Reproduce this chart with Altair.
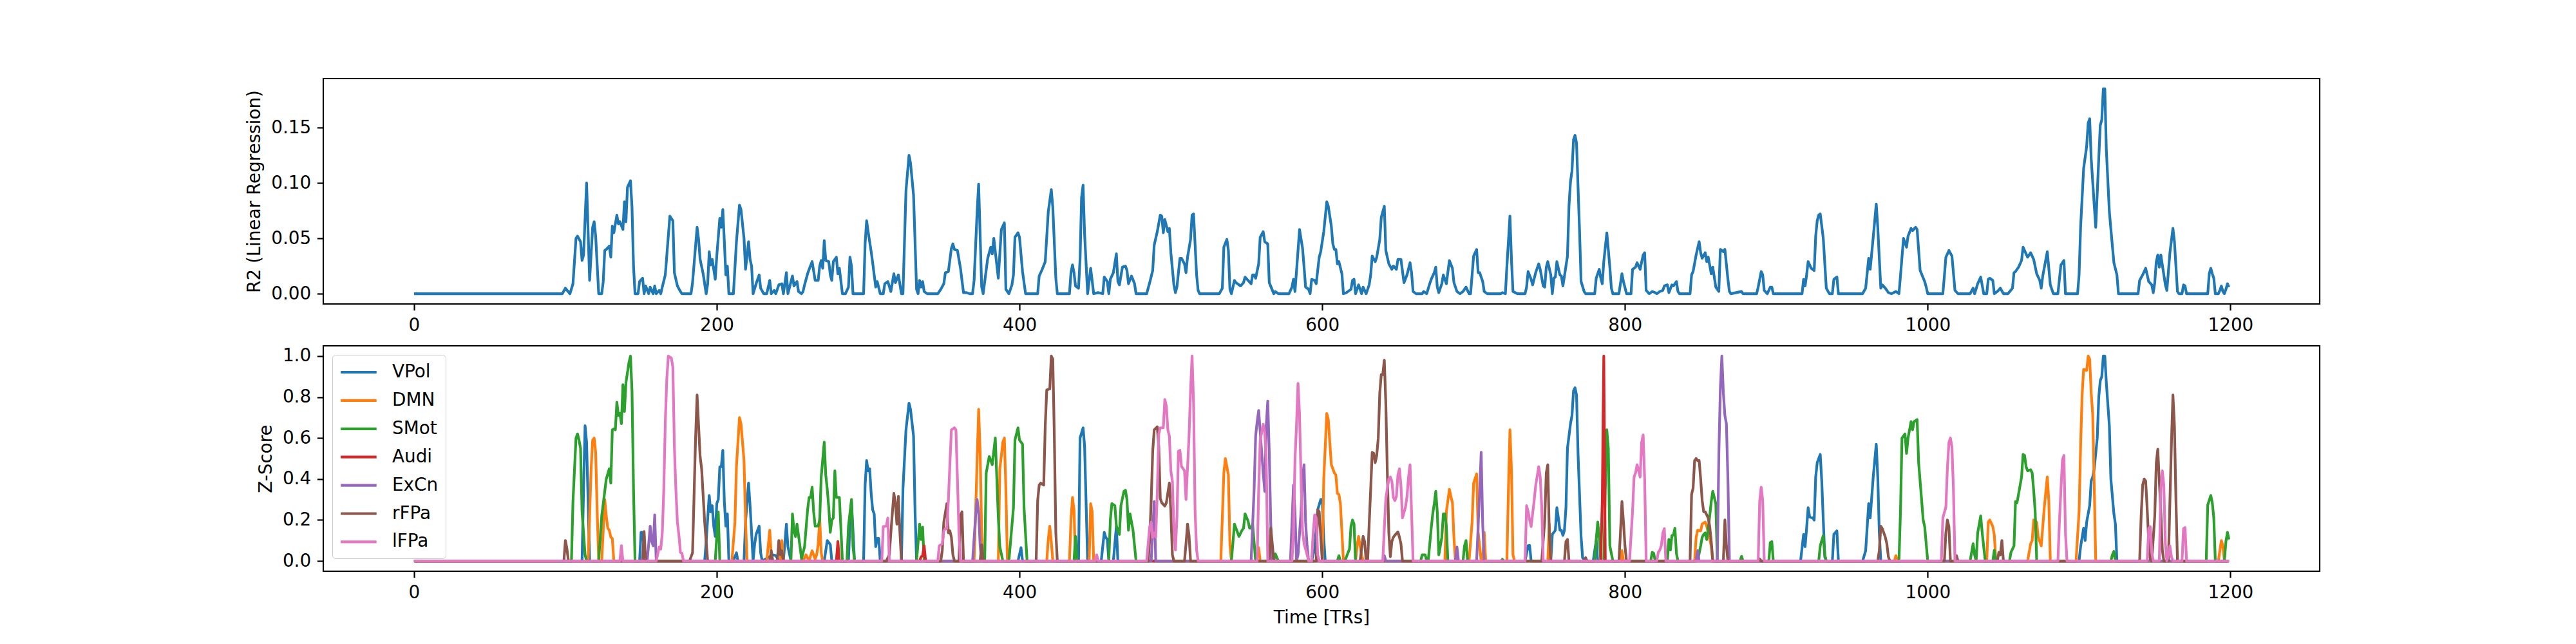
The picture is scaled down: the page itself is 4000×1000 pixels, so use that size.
import altair as alt
import pandas as pd

# ---------------- data ----------------
X_TICKS = [0, 200, 400, 600, 800, 1000, 1200]
R2_TICKS = [0.0, 0.05, 0.10, 0.15]
Z_TICKS = [0.0, 0.2, 0.4, 0.6, 0.8, 1.0]

SERIES = ["VPol", "DMN", "SMot", "Audi", "ExCn", "rFPa", "lFPa"]
COLORS = ["#1f77b4", "#ff7f0e", "#2ca02c", "#d62728", "#9467bd", "#8c564b", "#e377c2"]

R2 = [(0, 0), (98, 0), (100, 0.005), (103, 0), (105, 0.009), (107, 0.05), (108, 0.052), (110, 0.047),
      (111, 0.030), (112, 0.035), (114, 0.100), (116, 0.012), (118, 0.060), (119, 0.065), (120, 0.052),
      (122, 0), (124, 0), (125, 0.011), (126, 0.039), (127, 0.040), (129, 0.043), (130, 0.033), (131, 0.061),
      (132, 0.055), (134, 0.071), (135, 0.063), (136, 0.065), (138, 0.058), (139, 0.083), (140, 0.065),
      (141, 0.096), (143, 0.102), (144, 0.078), (145, 0.025), (146, 0), (148, 0), (149, 0.011), (151, 0.014),
      (152, 0), (153, 0.007), (155, 0), (156, 0.006), (158, 0), (159, 0.007), (160, 0), (162, 0.003), (163, 0),
      (164, 0.006), (166, 0.017), (169, 0.070), (171, 0.066), (172, 0.019), (174, 0.007), (176, 0.002),
      (177, 0), (183, 0), (184, 0.010), (187, 0.060), (188, 0.049), (189, 0.031), (191, 0.018), (193, 0),
      (194, 0.009), (195, 0.038), (196, 0.026), (197, 0.031), (199, 0.013), (200, 0.034), (202, 0.068),
      (203, 0.060), (204, 0.076), (205, 0.047), (206, 0.017), (207, 0.025), (208, 0), (211, 0), (213, 0.047),
      (215, 0.080), (216, 0.076), (218, 0.050), (219, 0.022), (221, 0.047), (222, 0.031), (223, 0.025),
      (224, 0), (226, 0.009), (228, 0.017), (229, 0.005), (231, 0), (233, 0), (235, 0.012), (236, 0),
      (238, 0.003), (239, 0), (241, 0.008), (243, 0.009), (244, 0), (246, 0.019), (247, 0), (250, 0.016),
      (251, 0.007), (253, 0.011), (254, 0.002), (256, 0), (257, 0.002), (258, 0.008), (260, 0.018),
      (261, 0.022), (263, 0.029), (265, 0.012), (267, 0.012), (268, 0.025), (269, 0.030), (270, 0.023),
      (271, 0.048), (272, 0.030), (274, 0.029), (275, 0.017), (276, 0.012), (277, 0.029), (279, 0.033),
      (280, 0.018), (281, 0.023), (283, 0), (285, 0), (287, 0.006), (288, 0.033), (289, 0.025), (290, 0),
      (297, 0), (298, 0.045), (299, 0.066), (300, 0.056), (302, 0.038), (303, 0.028), (305, 0.006),
      (306, 0.011), (308, 0), (310, 0), (311, 0.009), (313, 0.011), (315, 0.002), (317, 0.018), (318, 0.010),
      (320, 0.017), (322, 0), (323, 0), (325, 0.093), (327, 0.125), (328, 0.118), (330, 0.089), (332, 0.004),
      (333, 0), (334, 0.012), (335, 0.006), (336, 0.011), (337, 0.002), (339, 0), (346, 0), (348, 0.004),
      (350, 0.009), (351, 0.019), (353, 0.020), (355, 0.041), (356, 0.045), (357, 0.040), (359, 0.039),
      (361, 0.023), (363, 0.001), (365, 0.001), (367, 0), (369, 0), (370, 0.012), (372, 0.074), (373, 0.099),
      (375, 0.006), (376, 0), (379, 0.032), (381, 0.042), (382, 0.036), (383, 0.050), (386, 0.014),
      (388, 0.058), (390, 0.064), (391, 0.004), (393, 0), (395, 0.008), (396, 0.017), (397, 0.051),
      (399, 0.055), (400, 0.051), (402, 0.020), (404, 0), (412, 0), (413, 0.016), (415, 0.022), (417, 0.029),
      (419, 0.074), (421, 0.094), (422, 0.078), (424, 0.014), (425, 0), (433, 0), (434, 0.019), (435, 0.026),
      (436, 0.019), (437, 0.007), (439, 0.005), (440, 0.031), (441, 0.087), (442, 0.098), (443, 0.054),
      (445, 0), (447, 0.023), (449, 0), (452, 0.001), (455, 0), (456, 0.015), (458, 0.011), (459, 0),
      (460, 0.013), (462, 0.019), (464, 0.036), (465, 0.011), (466, 0.008), (468, 0.024), (470, 0.025),
      (471, 0.021), (472, 0.009), (474, 0.016), (476, 0.009), (477, 0), (484, 0), (486, 0.010), (488, 0.021),
      (489, 0.044), (491, 0.056), (493, 0.071), (494, 0.070), (495, 0.055), (496, 0.067), (498, 0.056),
      (499, 0.059), (500, 0.037), (502, 0.008), (503, 0.001), (504, 0.006), (506, 0.032), (507, 0.032),
      (509, 0.027), (510, 0.019), (511, 0.033), (513, 0.049), (514, 0.071), (515, 0.072), (517, 0.017),
      (518, 0.003), (519, 0), (532, 0), (534, 0.005), (535, 0.042), (537, 0.049), (538, 0.039), (539, 0.004),
      (540, 0), (542, 0.012), (543, 0.010), (546, 0.007), (548, 0.010), (549, 0.015), (551, 0.012),
      (553, 0.009), (554, 0.017), (555, 0.017), (556, 0.014), (558, 0.027), (559, 0.051), (561, 0.056),
      (562, 0.047), (564, 0.045), (565, 0.010), (568, 0), (569, 0.002), (571, 0), (578, 0), (580, 0.006),
      (581, 0.013), (582, 0.002), (584, 0.039), (585, 0.058), (587, 0.041), (588, 0.024), (589, 0.006),
      (591, 0.004), (592, 0), (593, 0.013), (595, 0.012), (596, 0.009), (598, 0.033), (599, 0.038),
      (601, 0.056), (603, 0.083), (604, 0.079), (606, 0.061), (607, 0.045), (608, 0.040), (609, 0.040),
      (610, 0.027), (611, 0.029), (613, 0.018), (614, 0), (616, 0.001), (618, 0.003), (619, 0.004),
      (620, 0.012), (621, 0.013), (622, 0), (624, 0.008), (626, 0), (627, 0.006), (629, 0), (631, 0.008),
      (632, 0.017), (633, 0.034), (635, 0.029), (636, 0.033), (638, 0.049), (639, 0.069), (641, 0.079),
      (642, 0.039), (644, 0.027), (646, 0.022), (647, 0.025), (649, 0.022), (650, 0.031), (652, 0.031),
      (654, 0.010), (656, 0.017), (658, 0.028), (659, 0.019), (660, 0.002), (662, 0), (666, 0), (667, 0.002),
      (669, 0), (671, 0.009), (672, 0.013), (674, 0.019), (675, 0.024), (676, 0.006), (677, 0.001),
      (679, 0.009), (680, 0.017), (682, 0.009), (684, 0.030), (686, 0.023), (687, 0.010), (689, 0.002),
      (691, 0), (693, 0.002), (695, 0.006), (697, 0), (698, 0), (700, 0.034), (702, 0.040), (703, 0.019),
      (704, 0.019), (706, 0.011), (707, 0.002), (709, 0), (718, 0), (719, 0.001), (721, 0), (722, 0.025),
      (724, 0.070), (725, 0.031), (726, 0.002), (729, 0), (734, 0), (735, 0.006), (736, 0.020), (738, 0.013),
      (739, 0.008), (741, 0.019), (743, 0.027), (744, 0.022), (746, 0.007), (747, 0.006), (748, 0.024),
      (749, 0.029), (751, 0.017), (752, 0), (753, 0.014), (754, 0.015), (755, 0.029), (757, 0.017),
      (758, 0.016), (759, 0.007), (760, 0.016), (762, 0.034), (763, 0.079), (764, 0.101), (765, 0.111),
      (766, 0.139), (767, 0.143), (768, 0.136), (770, 0.056), (771, 0.011), (773, 0.002), (774, 0), (780, 0),
      (781, 0.014), (783, 0.022), (784, 0.014), (785, 0.009), (786, 0.029), (788, 0.055), (790, 0.024),
      (791, 0.005), (792, 0), (796, 0), (798, 0.018), (799, 0.011), (801, 0), (804, 0), (805, 0.022),
      (807, 0.024), (808, 0.028), (810, 0.022), (812, 0.035), (813, 0.037), (814, 0.003), (816, 0),
      (818, 0.002), (820, 0.001), (821, 0), (823, 0.002), (825, 0.003), (826, 0.007), (828, 0.008),
      (829, 0.001), (831, 0.008), (832, 0.007), (834, 0.011), (835, 0.002), (836, 0), (843, 0), (844, 0.017),
      (845, 0.020), (847, 0.035), (849, 0.047), (850, 0.037), (851, 0.032), (853, 0.037), (854, 0.029),
      (855, 0.033), (857, 0.018), (858, 0.024), (860, 0.006), (862, 0.002), (863, 0.040), (865, 0.038),
      (866, 0.040), (868, 0.013), (869, 0.002), (870, 0), (877, 0.002), (878, 0), (887, 0), (888, 0.006),
      (890, 0.020), (891, 0.017), (892, 0.003), (894, 0), (896, 0.006), (897, 0.006), (898, 0), (917, 0),
      (918, 0.013), (919, 0.007), (920, 0.017), (921, 0.029), (923, 0.023), (924, 0.022), (925, 0.021),
      (926, 0.052), (927, 0.066), (928, 0.071), (929, 0.072), (931, 0.050), (933, 0.005), (935, 0), (937, 0),
      (938, 0.013), (940, 0.015), (941, 0), (957, 0), (959, 0.005), (961, 0.032), (962, 0.022), (964, 0.051),
      (966, 0.081), (967, 0.060), (969, 0.005), (970, 0.008), (972, 0.005), (974, 0.001), (976, 0),
      (979, 0.002), (981, 0), (982, 0.016), (984, 0.050), (986, 0.042), (987, 0.052), (989, 0.059),
      (990, 0.057), (992, 0.060), (993, 0.058), (995, 0.021), (998, 0.011), (999, 0.006), (1000, 0),
      (1010, 0), (1011, 0.016), (1012, 0.033), (1014, 0.039), (1016, 0.034), (1018, 0.003), (1020, 0),
      (1028, 0), (1030, 0.005), (1031, 0), (1033, 0.009), (1035, 0.015), (1037, 0), (1039, 0), (1040, 0.013),
      (1041, 0.014), (1043, 0.012), (1044, 0), (1046, 0.002), (1048, 0.005), (1050, 0), (1053, 0),
      (1056, 0.005), (1057, 0.019), (1058, 0.020), (1060, 0.024), (1062, 0.030), (1063, 0.042), (1064, 0.039),
      (1066, 0.033), (1068, 0.037), (1070, 0.031), (1072, 0.018), (1074, 0.012), (1075, 0.005), (1076, 0.016),
      (1079, 0.038), (1081, 0.008), (1083, 0), (1086, 0), (1088, 0.026), (1090, 0.030), (1091, 0), (1099, 0),
      (1100, 0.017), (1101, 0.060), (1103, 0.113), (1105, 0.133), (1106, 0.154), (1107, 0.158), (1108, 0.122),
      (1110, 0.080), (1111, 0.060), (1113, 0.122), (1114, 0.152), (1115, 0.157), (1116, 0.185), (1117, 0.185),
      (1118, 0.130), (1120, 0.074), (1122, 0.043), (1123, 0.028), (1125, 0.017), (1126, 0), (1139, 0),
      (1140, 0.012), (1142, 0.017), (1144, 0.023), (1145, 0.017), (1146, 0.011), (1148, 0.008), (1149, 0.001),
      (1150, 0.010), (1151, 0.029), (1152, 0.035), (1153, 0.024), (1154, 0.035), (1155, 0.026), (1156, 0.017),
      (1157, 0.008), (1158, 0.003), (1160, 0.037), (1162, 0.059), (1163, 0.047), (1165, 0.002), (1166, 0),
      (1168, 0), (1169, 0.008), (1170, 0.007), (1171, 0), (1185, 0), (1186, 0.018), (1187, 0.023),
      (1188, 0.018), (1189, 0.014), (1190, 0), (1192, 0), (1193, 0.003), (1194, 0.007), (1195, 0.002),
      (1196, 0), (1197, 0.004), (1198, 0.009), (1199, 0.006)]

VPOL = [(0, 0), (111, 0), (112, 0.35), (113, 0.66), (114, 0.58), (116, 0), (149, 0), (150, 0.14), (151, 0.14),
        (153, 0), (192, 0), (193, 0.095), (195, 0.32), (196, 0.24), (197, 0.27), (198, 0.17), (199, 0.12),
        (200, 0.28), (201, 0.30), (202, 0.46), (203, 0.46), (204, 0.54), (205, 0.29), (206, 0.17), (207, 0.23),
        (208, 0), (211, 0), (213, 0.04), (214, 0), (218, 0), (219, 0.19), (221, 0.38), (222, 0.27), (223, 0.14),
        (224, 0), (225, 0.08), (226, 0.13), (228, 0.17), (229, 0.04), (230, 0), (237, 0.03), (239, 0.026),
        (241, 0), (244, 0), (246, 0.18), (247, 0.07), (249, 0), (271, 0), (273, 0.10), (275, 0.08), (276, 0),
        (287, 0), (288, 0.19), (289, 0.29), (291, 0), (297, 0), (298, 0.37), (299, 0.49), (300, 0.44),
        (301, 0.45), (302, 0.33), (303, 0.25), (304, 0.23), (305, 0.07), (306, 0.11), (307, 0.11), (308, 0),
        (322, 0), (323, 0.35), (325, 0.64), (327, 0.77), (328, 0.74), (330, 0.61), (331, 0.24), (332, 0),
        (399, 0), (401, 0.065), (402, 0), (439, 0), (440, 0.60), (442, 0.65), (443, 0.56), (445, 0), (454, 0),
        (456, 0.14), (457, 0.115), (458, 0.105), (459, 0), (462, 0), (464, 0.17), (465, 0), (593, 0),
        (595, 0.06), (597, 0.25), (599, 0.30), (600, 0.30), (601, 0.11), (602, 0), (734, 0), (736, 0.075),
        (737, 0.076), (738, 0), (751, 0), (752, 0.13), (754, 0.15), (755, 0.26), (756, 0.21), (757, 0.15),
        (758, 0.15), (759, 0.125), (760, 0.15), (761, 0.26), (762, 0.55), (764, 0.67), (765, 0.71), (766, 0.83),
        (767, 0.845), (768, 0.81), (769, 0.52), (771, 0.12), (772, 0.016), (774, 0), (779, 0), (781, 0.10),
        (782, 0), (916, 0), (918, 0.13), (919, 0.07), (920, 0.16), (921, 0.26), (922, 0.215), (924, 0.21),
        (925, 0.2), (926, 0.41), (927, 0.48), (928, 0.50), (929, 0.52), (930, 0.39), (931, 0.2), (932, 0.02),
        (933, 0), (937, 0), (938, 0.13), (940, 0.147), (941, 0), (957, 0), (959, 0.05), (961, 0.28),
        (962, 0.21), (964, 0.41), (966, 0.57), (967, 0.41), (968, 0.14), (969, 0), (1100, 0), (1101, 0.07),
        (1103, 0.16), (1104, 0.10), (1105, 0.19), (1107, 0.27), (1108, 0.39), (1109, 0.41), (1110, 0.45),
        (1112, 0.60), (1113, 0.8), (1114, 0.88), (1115, 0.9), (1116, 1.0), (1117, 1.0), (1118, 0.87),
        (1120, 0.66), (1121, 0.40), (1123, 0.23), (1124, 0.18), (1125, 0), (1199, 0)]

DMN = [(0, 0), (115, 0), (117, 0.45), (118, 0.59), (119, 0.6), (120, 0.53), (121, 0.24), (122, 0), (124, 0),
       (126, 0.30), (127, 0.22), (128, 0.16), (129, 0.15), (130, 0.116), (131, 0.11), (132, 0), (210, 0),
       (212, 0.19), (213, 0.46), (215, 0.70), (216, 0.67), (218, 0.49), (219, 0.2), (220, 0), (233, 0),
       (235, 0.15), (236, 0.03), (237, 0), (242, 0), (243, 0.1), (244, 0), (257, 0), (259, 0.03), (261, 0),
       (263, 0.05), (265, 0.01), (266, 0.03), (267, 0.08), (268, 0.21), (269, 0.04), (270, 0), (370, 0),
       (371, 0.24), (372, 0.49), (373, 0.74), (374, 0.53), (375, 0.14), (376, 0), (386, 0), (387, 0.45),
       (389, 0.58), (390, 0.6), (391, 0.35), (392, 0), (418, 0), (419, 0.105), (420, 0.17), (421, 0.095),
       (422, 0), (433, 0), (434, 0.2), (435, 0.31), (436, 0.25), (437, 0), (446, 0), (447, 0.28), (448, 0.24),
       (449, 0), (533, 0), (535, 0.43), (536, 0.5), (538, 0.42), (539, 0.08), (540, 0), (556, 0), (558, 0.065),
       (559, 0), (600, 0), (601, 0.4), (603, 0.72), (604, 0.69), (605, 0.58), (606, 0.47), (608, 0.43),
       (609, 0.42), (610, 0.33), (611, 0.325), (612, 0.28), (614, 0), (622, 0), (623, 0.07), (624, 0.12),
       (626, 0.03), (627, 0), (681, 0), (682, 0.24), (684, 0.35), (685, 0.315), (686, 0.285), (687, 0.115),
       (688, 0), (697, 0), (699, 0.19), (700, 0.38), (702, 0.425), (703, 0.14), (705, 0), (706, 0), (707, 0.14),
       (708, 0), (722, 0), (723, 0.35), (724, 0.64), (725, 0.45), (726, 0.03), (727, 0), (749, 0), (750, 0.18),
       (751, 0), (797, 0), (798, 0.05), (799, 0), (846, 0), (847, 0.115), (848, 0.15), (850, 0.147),
       (851, 0.18), (853, 0.19), (854, 0.17), (856, 0.105), (857, 0.074), (858, 0), (978, 0), (979, 0.026),
       (980, 0), (1039, 0), (1040, 0.19), (1041, 0.2), (1043, 0.168), (1044, 0.126), (1045, 0), (1066, 0),
       (1068, 0.084), (1069, 0.1), (1070, 0.2), (1071, 0.195), (1072, 0.19), (1073, 0.116), (1075, 0.074),
       (1077, 0.26), (1079, 0.41), (1080, 0.295), (1081, 0), (1098, 0), (1100, 0.24), (1101, 0.56),
       (1102, 0.81), (1103, 0.935), (1105, 0.93), (1106, 1.0), (1107, 0.985), (1108, 0.82), (1109, 0.715),
       (1110, 0.37), (1111, 0), (1192, 0), (1194, 0.1), (1195, 0.074), (1196, 0), (1199, 0)]

SMOT = [(0, 0), (104, 0), (105, 0.29), (107, 0.6), (108, 0.62), (109, 0.59), (110, 0.55), (111, 0.24),
        (113, 0.03), (114, 0), (122, 0), (124, 0.22), (126, 0.34), (127, 0.40), (129, 0.45), (130, 0.38),
        (131, 0.64), (132, 0.645), (133, 0.64), (134, 0.775), (135, 0.71), (136, 0.72), (137, 0.67), (138, 0.86),
        (139, 0.73), (140, 0.87), (142, 0.97), (143, 1.0), (144, 0.83), (145, 0.35), (146, 0), (199, 0),
        (201, 0.24), (202, 0), (249, 0), (250, 0.23), (251, 0.15), (252, 0.12), (253, 0.18), (255, 0.07),
        (256, 0.01), (258, 0.07), (260, 0.25), (261, 0.31), (262, 0.31), (263, 0.36), (264, 0.24), (265, 0.17),
        (267, 0.17), (268, 0.2), (269, 0.41), (271, 0.58), (272, 0.42), (273, 0.35), (274, 0.26), (275, 0.14),
        (276, 0.2), (277, 0.21), (278, 0.44), (279, 0.31), (281, 0.31), (282, 0.16), (283, 0), (286, 0),
        (287, 0.17), (289, 0.3), (290, 0.07), (291, 0), (332, 0), (334, 0.18), (335, 0.105), (336, 0.165),
        (337, 0), (377, 0), (378, 0.43), (380, 0.51), (382, 0.47), (384, 0.6), (386, 0.21), (387, 0.07),
        (389, 0), (393, 0), (396, 0.26), (397, 0.59), (399, 0.65), (400, 0.59), (402, 0.57), (403, 0.26),
        (405, 0), (436, 0), (437, 0.12), (438, 0), (459, 0), (460, 0.2), (461, 0.28), (463, 0.27), (464, 0.17),
        (466, 0.13), (467, 0.27), (469, 0.34), (470, 0.345), (471, 0.3), (472, 0.15), (473, 0.23), (475, 0.15),
        (477, 0), (540, 0), (542, 0.18), (543, 0.16), (545, 0.12), (547, 0.15), (548, 0.16), (549, 0.23),
        (551, 0.195), (552, 0.16), (553, 0.16), (554, 0.18), (556, 0), (568, 0), (569, 0.035), (571, 0),
        (610, 0), (611, 0.026), (612, 0), (615, 0), (617, 0.04), (618, 0.058), (619, 0.17), (620, 0.2),
        (621, 0.18), (622, 0), (665, 0), (666, 0.03), (668, 0.03), (669, 0), (670, 0), (672, 0.16), (673, 0.23),
        (674, 0.28), (675, 0.34), (676, 0.24), (677, 0.03), (679, 0.115), (680, 0.23), (681, 0.23), (682, 0.17),
        (683, 0), (693, 0), (694, 0.074), (695, 0.1), (696, 0), (718, 0), (719, 0.008), (720, 0), (780, 0),
        (781, 0.105), (782, 0.19), (783, 0.116), (784, 0), (786, 0), (787, 0.35), (788, 0.64), (789, 0.55),
        (790, 0.074), (792, 0), (817, 0), (818, 0.042), (819, 0.037), (820, 0), (828, 0), (829, 0.105),
        (830, 0.053), (831, 0.124), (832, 0.126), (833, 0.16), (834, 0.037), (835, 0), (848, 0), (850, 0.074),
        (851, 0.116), (852, 0.13), (853, 0.137), (854, 0.105), (855, 0.158), (856, 0.22), (857, 0.29),
        (858, 0.34), (860, 0.28), (861, 0), (876, 0), (877, 0.023), (878, 0), (895, 0), (896, 0.09),
        (897, 0.095), (898, 0), (928, 0), (929, 0.074), (930, 0.1), (931, 0.124), (932, 0.03), (933, 0),
        (981, 0), (982, 0.24), (983, 0.6), (985, 0.62), (986, 0.525), (987, 0.6), (989, 0.68), (990, 0.64),
        (991, 0.68), (993, 0.69), (994, 0.48), (996, 0.295), (997, 0.2), (998, 0.168), (1000, 0), (1028, 0),
        (1030, 0.084), (1031, 0.03), (1032, 0), (1033, 0.137), (1035, 0.22), (1036, 0.137), (1038, 0),
        (1043, 0), (1044, 0.053), (1045, 0), (1054, 0), (1055, 0.042), (1057, 0.074), (1058, 0.29),
        (1059, 0.284), (1060, 0.326), (1062, 0.41), (1063, 0.52), (1064, 0.515), (1065, 0.46), (1066, 0.44),
        (1068, 0.445), (1069, 0.43), (1070, 0.345), (1071, 0.24), (1072, 0), (1121, 0), (1122, 0.03),
        (1123, 0.047), (1124, 0), (1184, 0), (1185, 0.273), (1187, 0.32), (1188, 0.284), (1189, 0.21),
        (1190, 0), (1196, 0), (1197, 0.095), (1198, 0.14), (1199, 0.105)]

AUDI = [(0, 0), (279, 0), (280, 0.095), (281, 0), (334, 0), (335, 0.02), (336, 0.026), (337, 0.074),
        (338, 0), (784, 0), (785, 0.3), (786, 1.0), (787, 0), (1199, 0)]

EXCN = [(0, 0), (154, 0), (155, 0.08), (156, 0.17), (157, 0.095), (158, 0.074), (159, 0.225), (160, 0),
        (369, 0), (371, 0.22), (372, 0.3), (373, 0.24), (374, 0.074), (375, 0), (487, 0), (489, 0.29),
        (490, 0), (553, 0), (555, 0.35), (556, 0.61), (557, 0.68), (558, 0.735), (560, 0.53), (561, 0.43),
        (562, 0.34), (563, 0.66), (564, 0.78), (565, 0.53), (566, 0.18), (567, 0), (579, 0), (581, 0.37),
        (582, 0.24), (583, 0), (584, 0.03), (586, 0.24), (587, 0.41), (588, 0.47), (589, 0.19), (590, 0.074),
        (591, 0), (640, 0), (641, 0.026), (642, 0), (688, 0), (689, 0.068), (690, 0), (702, 0), (704, 0.34),
        (705, 0.53), (706, 0.18), (707, 0), (847, 0), (848, 0.05), (849, 0), (861, 0), (862, 0.515),
        (863, 0.84), (864, 1.0), (865, 0.82), (866, 0.71), (867, 0.67), (868, 0.4), (869, 0), (1199, 0)]

RFPA = [(0, 0), (99, 0), (100, 0.10), (101, 0.06), (102, 0), (151, 0), (152, 0.144), (153, 0), (182, 0),
        (184, 0.04), (186, 0.6), (187, 0.81), (189, 0.51), (190, 0.45), (192, 0.19), (194, 0), (235, 0),
        (236, 0.05), (237, 0), (240, 0), (241, 0.1), (242, 0.03), (243, 0.05), (244, 0), (312, 0), (314, 0.03),
        (315, 0.137), (317, 0.33), (318, 0.284), (319, 0.18), (320, 0.315), (321, 0.137), (322, 0), (348, 0),
        (349, 0.053), (350, 0.19), (352, 0.28), (353, 0.137), (354, 0.147), (355, 0.116), (356, 0.03),
        (357, 0), (360, 0), (361, 0.22), (362, 0.24), (363, 0), (374, 0), (375, 0.079), (376, 0), (411, 0),
        (412, 0.295), (413, 0.37), (414, 0.38), (416, 0.37), (417, 0.66), (418, 0.835), (420, 0.84),
        (421, 1.0), (422, 0.985), (423, 0.61), (424, 0.137), (425, 0), (485, 0), (486, 0.105), (487, 0.295),
        (488, 0.535), (489, 0.64), (491, 0.655), (492, 0.56), (493, 0.305), (494, 0.284), (496, 0.268),
        (497, 0.284), (499, 0.38), (500, 0.24), (501, 0.03), (502, 0), (509, 0), (510, 0.084), (511, 0.18),
        (512, 0.126), (513, 0), (565, 0), (566, 0.16), (567, 0.084), (568, 0), (596, 0), (597, 0.25),
        (598, 0.24), (600, 0), (625, 0), (627, 0.12), (628, 0.095), (629, 0), (630, 0), (631, 0.18),
        (632, 0.35), (633, 0.53), (634, 0.525), (635, 0.48), (636, 0.515), (637, 0.6), (638, 0.82),
        (639, 0.91), (640, 0.91), (641, 0.98), (642, 0.77), (643, 0.43), (644, 0.137), (645, 0.021),
        (646, 0.095), (647, 0.116), (648, 0.126), (650, 0.142), (651, 0.116), (652, 0.084), (653, 0), (745, 0),
        (747, 0.2), (748, 0.43), (749, 0.47), (750, 0.137), (751, 0), (760, 0), (761, 0.095), (762, 0.105),
        (763, 0), (773, 0), (774, 0.016), (775, 0), (796, 0), (797, 0.137), (798, 0.29), (799, 0.19),
        (800, 0.074), (801, 0), (843, 0), (844, 0.325), (845, 0.355), (846, 0.49), (847, 0.5), (848, 0.49),
        (849, 0.49), (850, 0.4), (851, 0.295), (852, 0.24), (853, 0.24), (855, 0.21), (856, 0.168),
        (857, 0.095), (858, 0), (865, 0), (866, 0.2), (867, 0.074), (868, 0), (888, 0), (889, 0.01), (890, 0),
        (967, 0), (968, 0.05), (969, 0.17), (970, 0.158), (972, 0.116), (973, 0.084), (974, 0.021), (975, 0),
        (1011, 0), (1012, 0.137), (1013, 0.2), (1014, 0.168), (1015, 0), (1018, 0), (1019, 0.026), (1020, 0),
        (1046, 0), (1047, 0.042), (1048, 0.03), (1049, 0.1), (1050, 0), (1140, 0), (1141, 0.22), (1142, 0.37),
        (1143, 0.4), (1144, 0.39), (1145, 0.253), (1146, 0.095), (1147, 0.01), (1148, 0), (1150, 0.22),
        (1151, 0.48), (1152, 0.545), (1153, 0.39), (1154, 0.24), (1155, 0.053), (1156, 0), (1159, 0),
        (1160, 0.29), (1161, 0.575), (1162, 0.81), (1163, 0.66), (1164, 0.295), (1165, 0), (1199, 0)]

LFPA = [(0, 0), (136, 0), (137, 0.075), (138, 0), (160, 0), (162, 0.068), (163, 0.058), (164, 0.137),
        (165, 0.347), (166, 0.68), (167, 0.89), (168, 1.0), (170, 0.99), (171, 0.945), (172, 0.556),
        (173, 0.347), (174, 0.189), (175, 0.126), (176, 0.042), (177, 0.037), (178, 0), (309, 0), (310, 0.168),
        (312, 0.17), (313, 0.21), (314, 0), (346, 0), (347, 0.074), (349, 0.084), (350, 0.147), (351, 0.158),
        (352, 0.158), (353, 0.295), (354, 0.473), (355, 0.64), (356, 0.645), (357, 0.65), (358, 0.64),
        (359, 0.4), (360, 0.137), (361, 0), (450, 0), (451, 0.03), (452, 0), (484, 0), (486, 0.168),
        (487, 0.189), (488, 0.116), (489, 0.137), (490, 0.116), (491, 0.326), (492, 0.62), (493, 0.65),
        (495, 0.65), (496, 0.788), (497, 0.756), (498, 0.64), (499, 0.61), (500, 0.44), (501, 0.389),
        (502, 0.158), (503, 0.053), (504, 0.21), (505, 0.536), (506, 0.54), (507, 0.462), (509, 0.441),
        (510, 0.3), (511, 0.452), (512, 0.61), (513, 0.83), (514, 1.0), (515, 0.77), (516, 0.24), (517, 0.053),
        (518, 0), (557, 0), (558, 0.347), (559, 0.588), (561, 0.667), (562, 0.63), (563, 0.494), (564, 0),
        (580, 0), (581, 0.137), (582, 0.494), (583, 0.662), (584, 0.867), (585, 0.714), (586, 0.4),
        (587, 0.147), (588, 0.084), (590, 0.031), (591, 0), (593, 0), (594, 0.137), (595, 0.225), (596, 0.21),
        (597, 0.03), (598, 0), (640, 0), (641, 0.158), (642, 0.305), (644, 0.4), (645, 0.41), (646, 0.389),
        (647, 0.31), (648, 0.295), (649, 0.315), (650, 0.42), (651, 0.45), (652, 0.368), (653, 0.21),
        (655, 0.263), (656, 0.315), (657, 0.41), (658, 0.47), (659, 0.242), (660, 0), (734, 0), (735, 0.27),
        (736, 0.242), (737, 0.2), (738, 0.168), (740, 0.295), (741, 0.368), (743, 0.46), (744, 0.41),
        (745, 0.263), (746, 0), (803, 0), (805, 0.242), (806, 0.41), (807, 0.43), (808, 0.47), (809, 0.44),
        (810, 0.41), (811, 0.578), (812, 0.615), (813, 0.4), (814, 0), (821, 0), (822, 0.042), (823, 0.053),
        (824, 0.074), (825, 0.137), (826, 0.158), (827, 0), (888, 0), (889, 0.294), (890, 0.36), (891, 0.294),
        (892, 0), (1009, 0), (1010, 0.21), (1012, 0.263), (1013, 0.452), (1014, 0.578), (1015, 0.6),
        (1016, 0.557), (1017, 0.347), (1018, 0), (1086, 0), (1087, 0.189), (1088, 0.347), (1089, 0.494),
        (1090, 0.515), (1091, 0.137), (1092, 0), (1145, 0), (1146, 0.158), (1147, 0.168), (1148, 0.042),
        (1149, 0), (1153, 0), (1154, 0.347), (1155, 0.44), (1156, 0.368), (1157, 0.084), (1158, 0),
        (1159, 0.03), (1160, 0.074), (1161, 0.021), (1162, 0), (1168, 0), (1169, 0.158), (1170, 0.163),
        (1171, 0), (1199, 0)]

SERIES_DATA = [VPOL, DMN, SMOT, AUDI, EXCN, RFPA, LFPA]

# ---------------- styling ----------------
FONT = "DejaVu Sans"
FS = 27.8
LW = 4.17

x_scale = alt.Scale(domain=[-59.95, 1258.95], nice=False, zero=False)
x_axis = alt.Axis(values=X_TICKS, format="d", title=None)
x_axis_bottom = alt.Axis(values=X_TICKS, format="d", title="Time [TRs]")

top_df = pd.DataFrame(R2, columns=["t", "r2"])
top = alt.Chart(top_df).mark_line(color=COLORS[0], strokeWidth=LW, strokeJoin="round").encode(
    x=alt.X("t:Q", scale=x_scale, axis=x_axis),
    y=alt.Y("r2:Q", scale=alt.Scale(domain=[-0.00925, 0.19425], nice=False, zero=False),
            axis=alt.Axis(values=R2_TICKS, format=".2f", title="R2 (Linear Regression)")),
    order=alt.Order("t:Q"),
).properties(width=3100, height=350)

legend = alt.Legend(
    title=None, orient="top-left", offset=14,
    symbolType="M-1,0H3", symbolSize=773, symbolStrokeWidth=LW,
    labelOffset=50, rowPadding=13.9, padding=11,
    labelFont=FONT, labelFontSize=FS, labelColor="black", labelBaseline="middle",
    fillColor="white", strokeColor="#cccccc", cornerRadius=5,
)
color_scale = alt.Scale(domain=SERIES, range=COLORS)

layers = []
for name, pts in zip(SERIES, SERIES_DATA):
    d = pd.DataFrame(pts, columns=["t", "z"])
    d["series"] = name
    layers.append(
        alt.Chart(d).mark_line(strokeWidth=LW, strokeJoin="round").encode(
            x=alt.X("t:Q", scale=x_scale, axis=x_axis_bottom),
            y=alt.Y("z:Q", scale=alt.Scale(domain=[-0.05, 1.05], nice=False, zero=False),
                    axis=alt.Axis(values=Z_TICKS, format=".1f", title="Z-Score")),
            color=alt.Color("series:N", scale=color_scale, legend=legend),
            order=alt.Order("t:Q"),
        )
    )
bottom = alt.layer(*layers).properties(width=3100, height=350)

chart = alt.vconcat(top, bottom, spacing=14).resolve_scale(color="independent").resolve_legend(
    color="independent"
).properties(
    padding={"left": 380, "top": 120, "right": 10, "bottom": 10},
    background="white",
).configure_view(
    stroke="black", strokeWidth=2.2
).configure_axis(
    domain=False, grid=False,
    labelFont=FONT, labelFontSize=FS, labelColor="black", labelPadding=9.7,
    tickColor="black", tickSize=9.7, tickWidth=2.2,
    titleFont=FONT, titleFontSize=FS, titleFontWeight="normal", titleColor="black", titlePadding=11,
)

chart.save("out.html", embed_options={"renderer": "svg", "actions": False})
